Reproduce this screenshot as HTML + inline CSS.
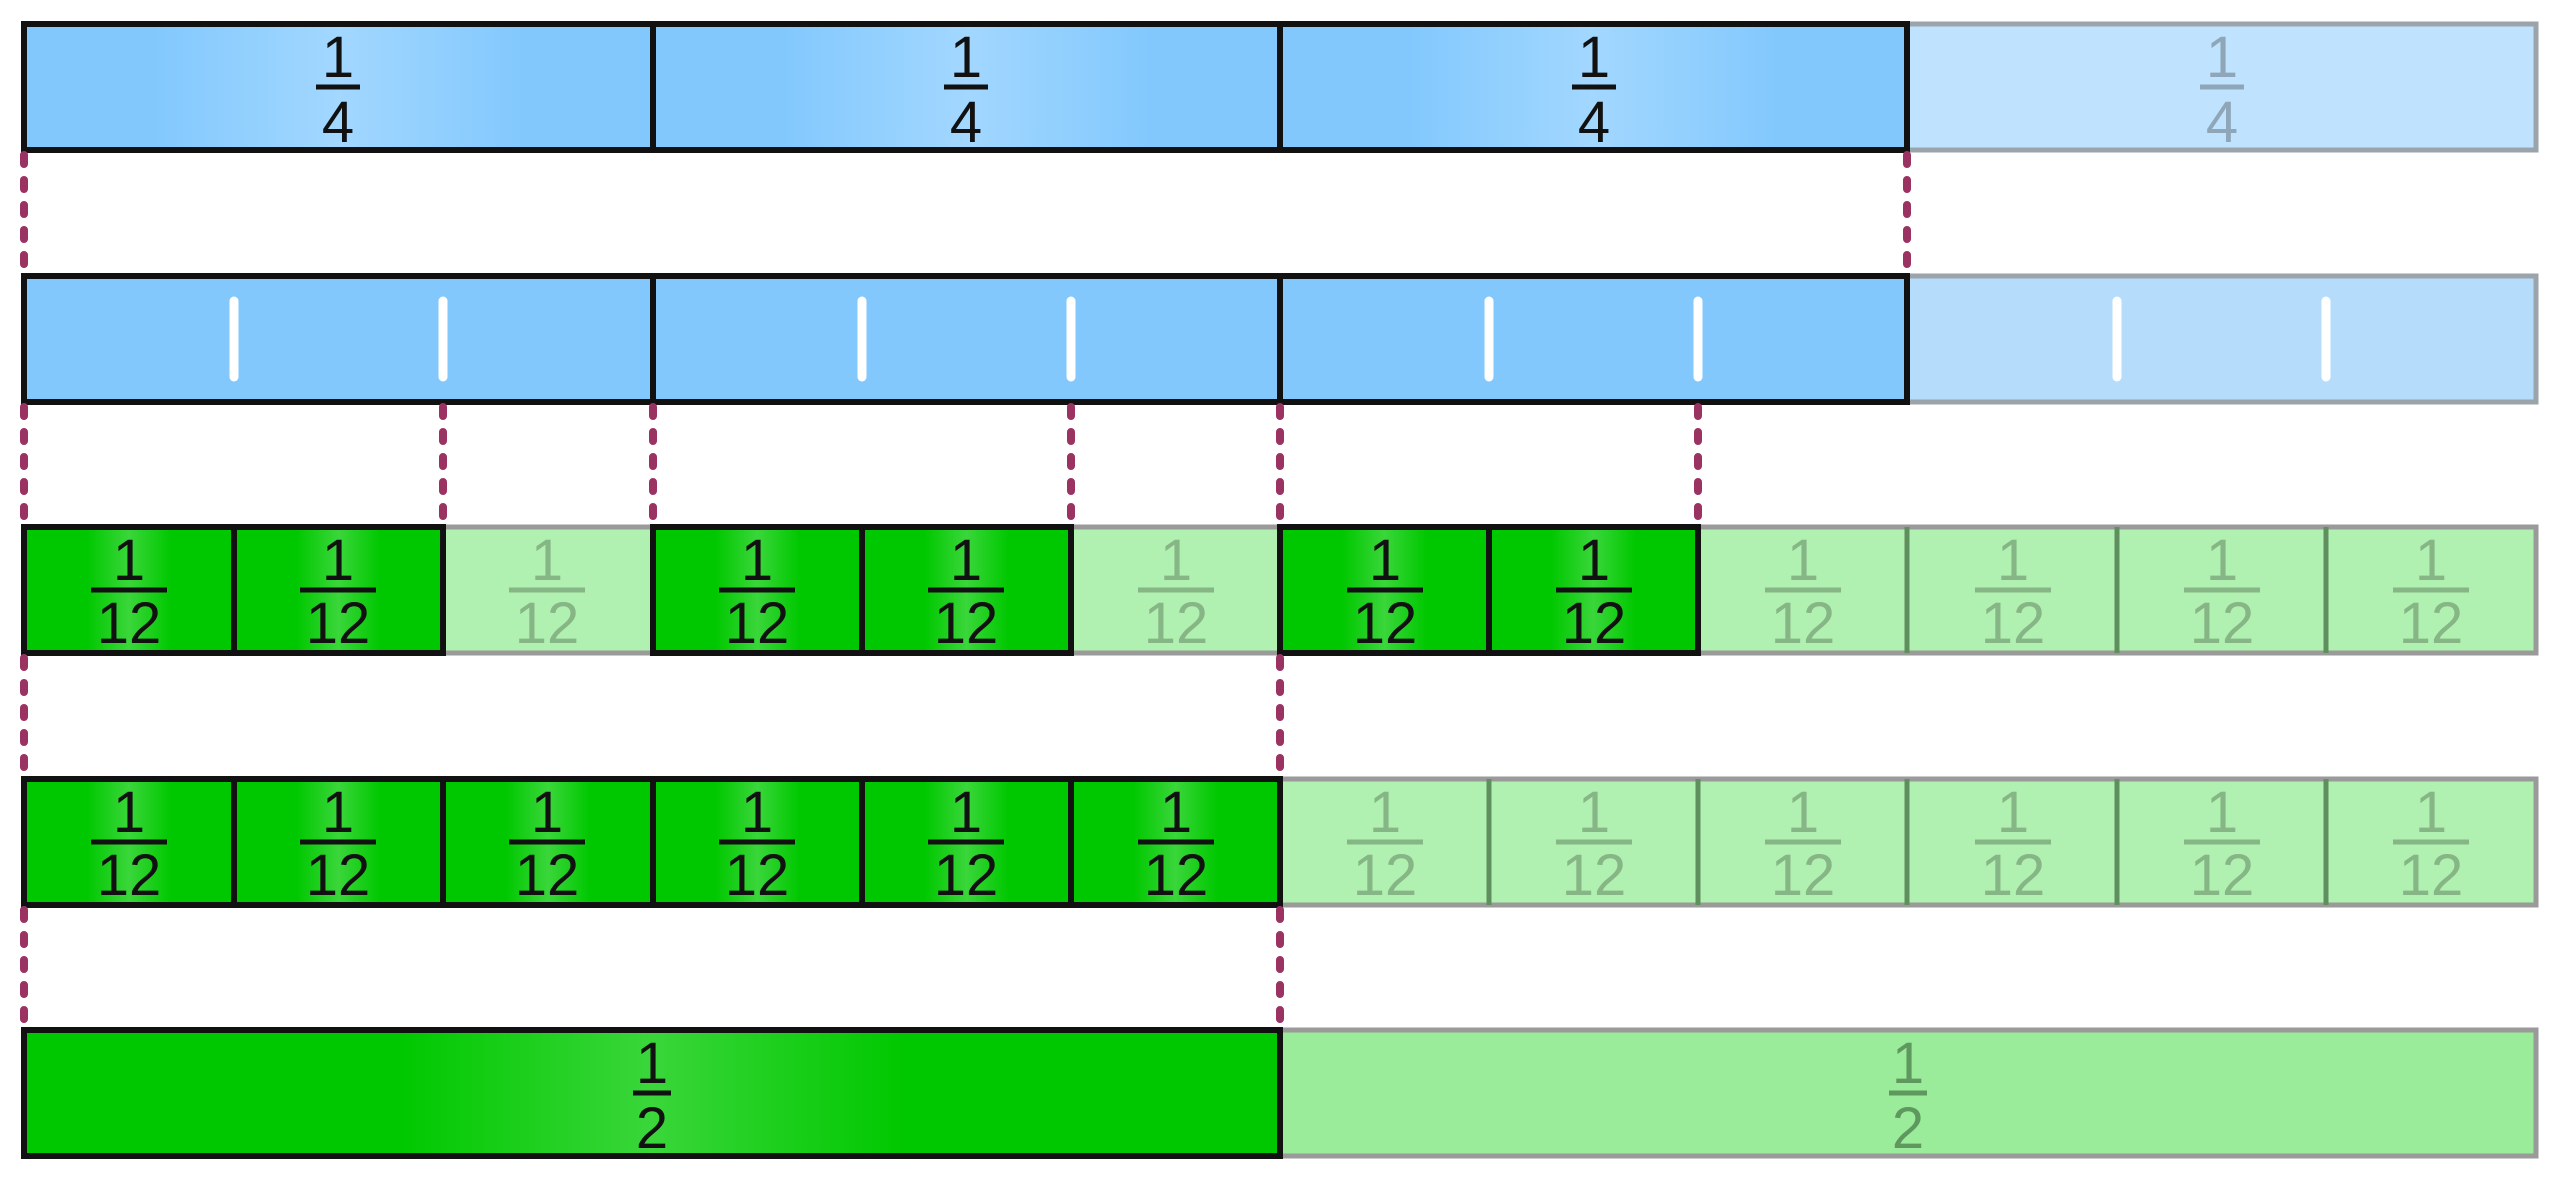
<!DOCTYPE html>
<html><head><meta charset="utf-8"><style>
html,body{margin:0;padding:0;background:#fff;width:2560px;height:1180px;overflow:hidden}
svg{display:block}
text{font-family:"Liberation Sans",sans-serif;font-size:58px;text-anchor:middle}
</style></head><body>
<svg width="2560" height="1180" viewBox="0 0 2560 1180" xmlns="http://www.w3.org/2000/svg">
<defs>
<linearGradient id="gb" x1="0" x2="1" y1="0" y2="0">
<stop offset="0" stop-color="#82c8fd"/><stop offset="0.2" stop-color="#82c8fd"/><stop offset="0.5" stop-color="#a2d7ff"/><stop offset="0.8" stop-color="#82c8fd"/><stop offset="1" stop-color="#82c8fd"/></linearGradient>
<linearGradient id="gg" x1="0" x2="1" y1="0" y2="0">
<stop offset="0" stop-color="#00c800"/><stop offset="0.3" stop-color="#00c800"/><stop offset="0.5" stop-color="#3ad63a"/><stop offset="0.7" stop-color="#00c800"/><stop offset="1" stop-color="#00c800"/></linearGradient>
</defs>

<!-- Row 1 -->
<rect x="1907" y="24" width="629" height="126" fill="#bfe3ff" stroke="#9aa4aa" stroke-width="5"/>
<g stroke="#111" stroke-width="6" fill="url(#gb)">
<rect x="24" y="24" width="629" height="126"/>
<rect x="653" y="24" width="627" height="126"/>
<rect x="1280" y="24" width="627" height="126"/>
</g>
<g fill="#111" stroke="#111">
<g transform="translate(338,24)"><text y="53" stroke="none">1</text><line x1="-22" x2="22" y1="63" y2="63" stroke-width="5"/><text y="118" stroke="none">4</text></g>
<g transform="translate(966,24)"><text y="53" stroke="none">1</text><line x1="-22" x2="22" y1="63" y2="63" stroke-width="5"/><text y="118" stroke="none">4</text></g>
<g transform="translate(1594,24)"><text y="53" stroke="none">1</text><line x1="-22" x2="22" y1="63" y2="63" stroke-width="5"/><text y="118" stroke="none">4</text></g>
</g>
<g fill="#8fa6b8" stroke="#8fa6b8">
<g transform="translate(2222,24)"><text y="53" stroke="none">1</text><line x1="-22" x2="22" y1="63" y2="63" stroke-width="5"/><text y="118" stroke="none">4</text></g>
</g>

<!-- Row 2 -->
<rect x="1907" y="276" width="629" height="126" fill="#b6dcfb" stroke="#9aa4aa" stroke-width="5"/>
<rect x="24" y="276" width="1883" height="126" fill="#82c8fd" stroke="#111" stroke-width="6"/>
<line x1="653" y1="276" x2="653" y2="402" stroke="#111" stroke-width="6"/>
<line x1="1280" y1="276" x2="1280" y2="402" stroke="#111" stroke-width="6"/>
<g stroke="#fff" stroke-width="9" stroke-linecap="round">
<line x1="234" y1="301" x2="234" y2="377"/><line x1="443" y1="301" x2="443" y2="377"/>
<line x1="862" y1="301" x2="862" y2="377"/><line x1="1071" y1="301" x2="1071" y2="377"/>
<line x1="1489" y1="301" x2="1489" y2="377"/><line x1="1698" y1="301" x2="1698" y2="377"/>
<line x1="2117" y1="301" x2="2117" y2="377"/><line x1="2326" y1="301" x2="2326" y2="377"/>
</g>

<!-- Row 3 -->
<rect x="24" y="527" width="2512" height="126" fill="#b0f0b0" stroke="#9a9a9a" stroke-width="5"/>
<g stroke="#5f8f5f" stroke-width="5">
<line x1="1907" y1="527" x2="1907" y2="653"/><line x1="2117" y1="527" x2="2117" y2="653"/><line x1="2326" y1="527" x2="2326" y2="653"/>
</g>
<g stroke="#111" stroke-width="6" fill="url(#gg)">
<rect x="24" y="527" width="210" height="126"/><rect x="234" y="527" width="209" height="126"/>
<rect x="653" y="527" width="209" height="126"/><rect x="862" y="527" width="209" height="126"/>
<rect x="1280" y="527" width="209" height="126"/><rect x="1489" y="527" width="209" height="126"/>
</g>
<g fill="#111" stroke="#111">
<g transform="translate(129,527)"><text y="53" stroke="none">1</text><line x1="-38" x2="38" y1="63" y2="63" stroke-width="5"/><text y="116" stroke="none">12</text></g>
<g transform="translate(338,527)"><text y="53" stroke="none">1</text><line x1="-38" x2="38" y1="63" y2="63" stroke-width="5"/><text y="116" stroke="none">12</text></g>
<g transform="translate(757,527)"><text y="53" stroke="none">1</text><line x1="-38" x2="38" y1="63" y2="63" stroke-width="5"/><text y="116" stroke="none">12</text></g>
<g transform="translate(966,527)"><text y="53" stroke="none">1</text><line x1="-38" x2="38" y1="63" y2="63" stroke-width="5"/><text y="116" stroke="none">12</text></g>
<g transform="translate(1385,527)"><text y="53" stroke="none">1</text><line x1="-38" x2="38" y1="63" y2="63" stroke-width="5"/><text y="116" stroke="none">12</text></g>
<g transform="translate(1594,527)"><text y="53" stroke="none">1</text><line x1="-38" x2="38" y1="63" y2="63" stroke-width="5"/><text y="116" stroke="none">12</text></g>
</g>
<g fill="#86b686" stroke="#86b686">
<g transform="translate(547,527)"><text y="53" stroke="none">1</text><line x1="-38" x2="38" y1="63" y2="63" stroke-width="5"/><text y="116" stroke="none">12</text></g>
<g transform="translate(1176,527)"><text y="53" stroke="none">1</text><line x1="-38" x2="38" y1="63" y2="63" stroke-width="5"/><text y="116" stroke="none">12</text></g>
<g transform="translate(1803,527)"><text y="53" stroke="none">1</text><line x1="-38" x2="38" y1="63" y2="63" stroke-width="5"/><text y="116" stroke="none">12</text></g>
<g transform="translate(2013,527)"><text y="53" stroke="none">1</text><line x1="-38" x2="38" y1="63" y2="63" stroke-width="5"/><text y="116" stroke="none">12</text></g>
<g transform="translate(2222,527)"><text y="53" stroke="none">1</text><line x1="-38" x2="38" y1="63" y2="63" stroke-width="5"/><text y="116" stroke="none">12</text></g>
<g transform="translate(2431,527)"><text y="53" stroke="none">1</text><line x1="-38" x2="38" y1="63" y2="63" stroke-width="5"/><text y="116" stroke="none">12</text></g>
</g>

<!-- Row 4 -->
<rect x="24" y="779" width="2512" height="126" fill="#b0f0b0" stroke="#9a9a9a" stroke-width="5"/>
<g stroke="#5f8f5f" stroke-width="5">
<line x1="1489" y1="779" x2="1489" y2="905"/><line x1="1698" y1="779" x2="1698" y2="905"/><line x1="1907" y1="779" x2="1907" y2="905"/><line x1="2117" y1="779" x2="2117" y2="905"/><line x1="2326" y1="779" x2="2326" y2="905"/>
</g>
<g stroke="#111" stroke-width="6" fill="url(#gg)">
<rect x="24" y="779" width="210" height="126"/><rect x="234" y="779" width="209" height="126"/>
<rect x="443" y="779" width="210" height="126"/><rect x="653" y="779" width="209" height="126"/>
<rect x="862" y="779" width="209" height="126"/><rect x="1071" y="779" width="209" height="126"/>
</g>
<g fill="#111" stroke="#111">
<g transform="translate(129,779)"><text y="53" stroke="none">1</text><line x1="-38" x2="38" y1="63" y2="63" stroke-width="5"/><text y="116" stroke="none">12</text></g>
<g transform="translate(338,779)"><text y="53" stroke="none">1</text><line x1="-38" x2="38" y1="63" y2="63" stroke-width="5"/><text y="116" stroke="none">12</text></g>
<g transform="translate(547,779)"><text y="53" stroke="none">1</text><line x1="-38" x2="38" y1="63" y2="63" stroke-width="5"/><text y="116" stroke="none">12</text></g>
<g transform="translate(757,779)"><text y="53" stroke="none">1</text><line x1="-38" x2="38" y1="63" y2="63" stroke-width="5"/><text y="116" stroke="none">12</text></g>
<g transform="translate(966,779)"><text y="53" stroke="none">1</text><line x1="-38" x2="38" y1="63" y2="63" stroke-width="5"/><text y="116" stroke="none">12</text></g>
<g transform="translate(1176,779)"><text y="53" stroke="none">1</text><line x1="-38" x2="38" y1="63" y2="63" stroke-width="5"/><text y="116" stroke="none">12</text></g>
</g>
<g fill="#86b686" stroke="#86b686">
<g transform="translate(1385,779)"><text y="53" stroke="none">1</text><line x1="-38" x2="38" y1="63" y2="63" stroke-width="5"/><text y="116" stroke="none">12</text></g>
<g transform="translate(1594,779)"><text y="53" stroke="none">1</text><line x1="-38" x2="38" y1="63" y2="63" stroke-width="5"/><text y="116" stroke="none">12</text></g>
<g transform="translate(1803,779)"><text y="53" stroke="none">1</text><line x1="-38" x2="38" y1="63" y2="63" stroke-width="5"/><text y="116" stroke="none">12</text></g>
<g transform="translate(2013,779)"><text y="53" stroke="none">1</text><line x1="-38" x2="38" y1="63" y2="63" stroke-width="5"/><text y="116" stroke="none">12</text></g>
<g transform="translate(2222,779)"><text y="53" stroke="none">1</text><line x1="-38" x2="38" y1="63" y2="63" stroke-width="5"/><text y="116" stroke="none">12</text></g>
<g transform="translate(2431,779)"><text y="53" stroke="none">1</text><line x1="-38" x2="38" y1="63" y2="63" stroke-width="5"/><text y="116" stroke="none">12</text></g>
</g>

<!-- Row 5 -->
<rect x="1280" y="1030" width="1256" height="126" fill="#9aeb9a" stroke="#9a9a9a" stroke-width="5"/>
<rect x="24" y="1030" width="1256" height="126" fill="url(#gg)" stroke="#111" stroke-width="6"/>
<g fill="#111" stroke="#111" transform="translate(652,1030)"><text y="53" stroke="none">1</text><line x1="-19" x2="19" y1="63" y2="63" stroke-width="5"/><text y="118" stroke="none">2</text></g>
<g fill="#5f985f" stroke="#5f985f" transform="translate(1908,1030)"><text y="53" stroke="none">1</text><line x1="-19" x2="19" y1="63" y2="63" stroke-width="5"/><text y="118" stroke="none">2</text></g>

<!-- Dashed connectors -->
<g stroke="#9b3362" stroke-width="8" stroke-linecap="round" stroke-dasharray="9 16">
<line x1="24" y1="155" x2="24" y2="276"/><line x1="1907" y1="155" x2="1907" y2="276"/>
<line x1="24" y1="407" x2="24" y2="527"/><line x1="443" y1="407" x2="443" y2="527"/><line x1="653" y1="407" x2="653" y2="527"/><line x1="1071" y1="407" x2="1071" y2="527"/><line x1="1280" y1="407" x2="1280" y2="527"/><line x1="1698" y1="407" x2="1698" y2="527"/>
<line x1="24" y1="658" x2="24" y2="779"/><line x1="1280" y1="658" x2="1280" y2="779"/>
<line x1="24" y1="910" x2="24" y2="1030"/><line x1="1280" y1="910" x2="1280" y2="1030"/>
</g>
</svg>
</body></html>
